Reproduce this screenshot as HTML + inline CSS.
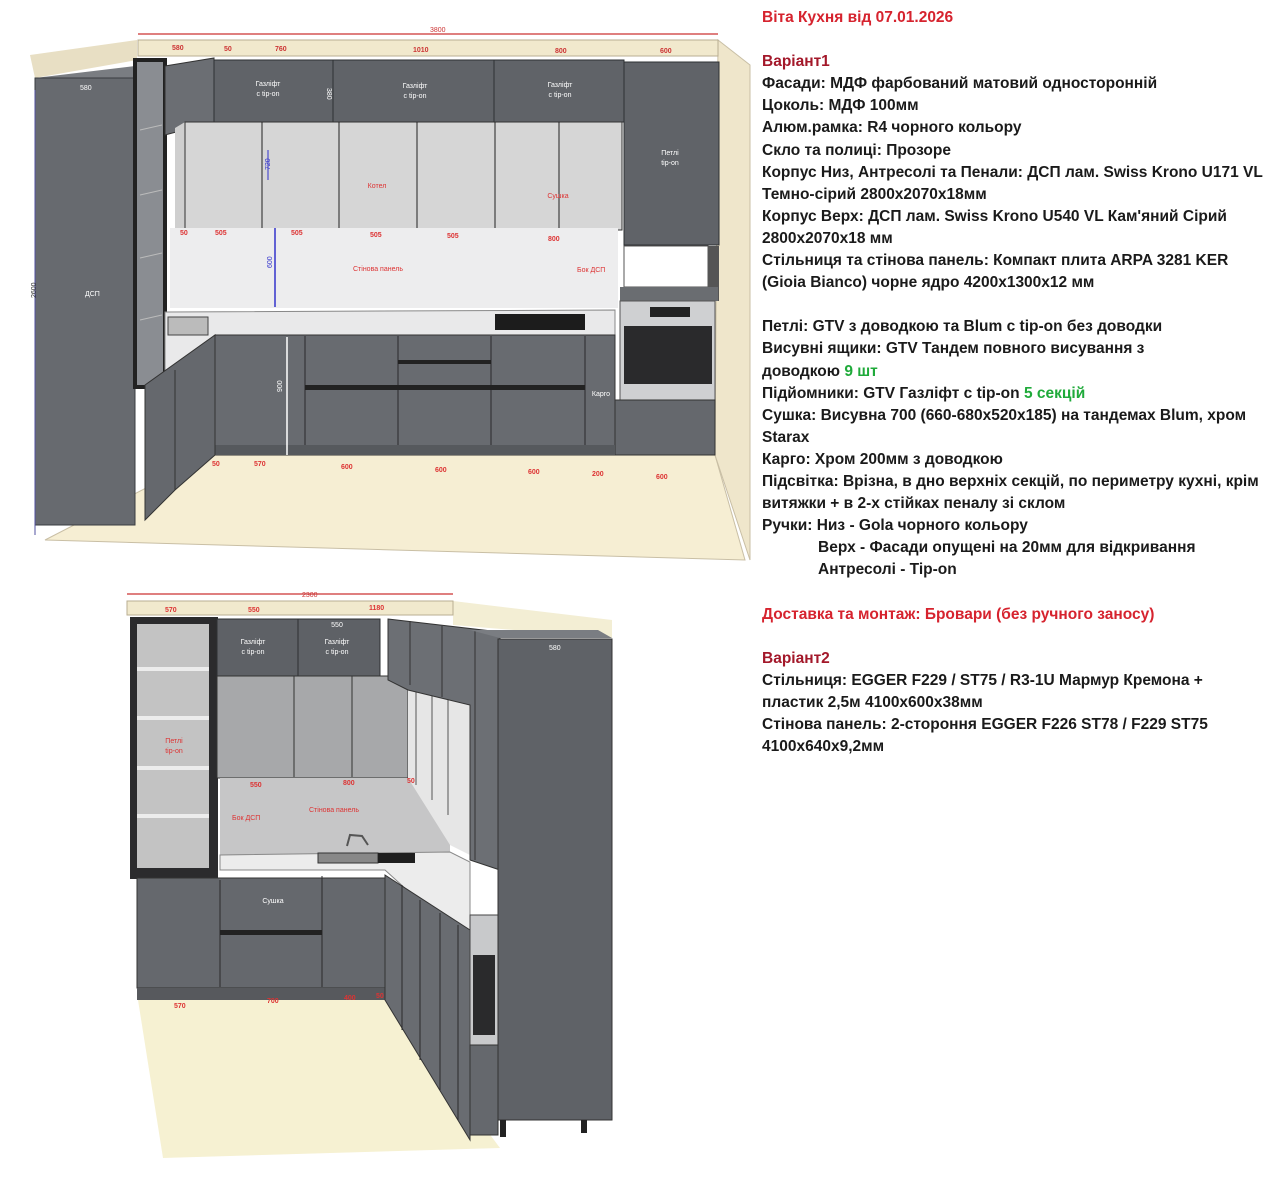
<!DOCTYPE html>
<html><head><meta charset="utf-8">
<style>
html,body{margin:0;padding:0;background:#fff;width:1280px;height:1181px;overflow:hidden}
.t{position:absolute;left:762px;top:7px;font-family:"Liberation Sans","DejaVu Sans",sans-serif;font-weight:bold;font-size:15.5px;line-height:22.1px;color:#1a1a1a;white-space:nowrap}
.r{color:#d6232e}.dr{color:#a3182a}.g{color:#1faa3a}
svg{position:absolute;left:0;top:0}
</style></head><body>
<svg width="1280" height="1181" viewBox="0 0 1280 1181" font-family="Liberation Sans, sans-serif">
<!-- TOP DRAWING -->
<polygon points="45,540 210,455 715,455 745,560" fill="#f6eed3" stroke="#c9bfa5"/>
<polygon points="718,40 750,65 750,560 715,455" fill="#efe6cb" stroke="#c9bfa5"/>
<polygon points="30,55 137,40 137,60 35,78" fill="#e8dfc4"/>
<rect x="138" y="40" width="580" height="16" fill="#f1e9cd" stroke="#b9ae92"/>
<line x1="138" y1="34" x2="718" y2="34" stroke="#c33" stroke-width="1.2"/>
<text x="430" y="32" font-size="7" fill="#c33">3800</text>
<g font-size="7" fill="#c33" font-weight="bold">
<text x="172" y="50">580</text><text x="224" y="51">50</text><text x="275" y="51">760</text><text x="413" y="52">1010</text><text x="555" y="53">800</text><text x="660" y="53">600</text>
</g>
<polygon points="35,78 135,66 165,66 165,78" fill="#7a7d82"/>
<rect x="35" y="78" width="100" height="447" fill="#676a6f" stroke="#3a3c40"/>
<rect x="135" y="60" width="30" height="327" fill="#8a8d92" stroke="#222" stroke-width="4"/>
<g stroke="#bbb"><line x1="140" y1="130" x2="162" y2="125"/><line x1="140" y1="195" x2="162" y2="190"/><line x1="140" y1="258" x2="162" y2="253"/><line x1="140" y1="320" x2="162" y2="315"/></g>
<polygon points="165,66 214,58 214,122 165,135" fill="#6b6e73" stroke="#333"/>
<line x1="35" y1="90" x2="35" y2="535" stroke="#5050a0" stroke-width="1"/>
<text x="36" y="298" font-size="7" fill="#333" transform="rotate(-90 36 298)">2600</text>
<text x="80" y="90" font-size="7" fill="#fff">580</text>
<text x="85" y="296" font-size="7" fill="#fff">ДСП</text>
<rect x="214" y="60" width="410" height="62" fill="#606368" stroke="#2e3033"/>
<line x1="333" y1="60" x2="333" y2="122" stroke="#2e3033"/><line x1="494" y1="60" x2="494" y2="122" stroke="#2e3033"/>
<g font-size="7" fill="#fff" text-anchor="middle">
<text x="268" y="86">Газліфт</text><text x="268" y="96">с tip-on</text>
<text x="415" y="88">Газліфт</text><text x="415" y="98">с tip-on</text>
<text x="560" y="87">Газліфт</text><text x="560" y="97">с tip-on</text>
</g>
<text x="327" y="88" font-size="7" fill="#fff" transform="rotate(90 327 88)">380</text>
<rect x="624" y="62" width="95" height="183" fill="#606368" stroke="#2e3033"/>
<text x="670" y="155" font-size="7" fill="#fff" text-anchor="middle">Петлі</text><text x="670" y="165" font-size="7" fill="#fff" text-anchor="middle">tip-on</text>
<rect x="624" y="246" width="84" height="41" fill="#fff" stroke="#555"/>
<rect x="708" y="246" width="11" height="55" fill="#555"/>
<rect x="620" y="287" width="98" height="14" fill="#6a6d71"/>
<rect x="620" y="301" width="95" height="99" fill="#cfd0d2" stroke="#555"/>
<rect x="650" y="307" width="40" height="10" fill="#222"/>
<rect x="624" y="326" width="88" height="58" fill="#2a2a2c"/>
<rect x="615" y="400" width="100" height="55" fill="#65686d" stroke="#333"/>
<polygon points="175,128 185,122 185,230 175,230" fill="#cfcfcf"/>
<rect x="185" y="122" width="437" height="108" fill="#d6d6d6" stroke="#333"/>
<g stroke="#222"><line x1="262" y1="122" x2="262" y2="228"/><line x1="339" y1="122" x2="339" y2="229"/><line x1="417" y1="122" x2="417" y2="229"/><line x1="495" y1="122" x2="495" y2="230"/><line x1="559" y1="122" x2="559" y2="230"/></g>
<line x1="268" y1="150" x2="268" y2="180" stroke="#33c"/>
<text x="270" y="170" font-size="7" fill="#33c" transform="rotate(-90 270 170)">720</text>
<text x="377" y="188" font-size="7" fill="#d33" text-anchor="middle">Котел</text>
<text x="558" y="198" font-size="7" fill="#d33" text-anchor="middle">Сушка</text>
<rect x="170" y="228" width="448" height="80" fill="#ededee"/>
<line x1="275" y1="228" x2="275" y2="307" stroke="#33c" stroke-width="1.5"/>
<text x="272" y="268" font-size="7" fill="#33c" transform="rotate(-90 272 268)">600</text>
<g font-size="7" fill="#d33" font-weight="bold">
<text x="180" y="235">50</text><text x="215" y="235">505</text><text x="291" y="235">505</text><text x="370" y="237">505</text><text x="447" y="238">505</text><text x="548" y="241">800</text>
<text x="353" y="271" font-weight="normal">Стінова панель</text><text x="577" y="272" font-weight="normal">Бок ДСП</text>
</g>
<polygon points="165,312 615,310 615,335 215,335 175,370 165,370" fill="#e9e9ea" stroke="#888"/>
<rect x="495" y="314" width="90" height="16" fill="#1c1c1c"/>
<rect x="168" y="317" width="40" height="18" fill="#bbb" stroke="#444"/>
<rect x="215" y="335" width="400" height="120" fill="#686b70" stroke="#333"/>
<rect x="215" y="445" width="400" height="10" fill="#56595d"/>
<g stroke="#2a2a2c" stroke-width="1"><line x1="305" y1="336" x2="305" y2="445"/><line x1="398" y1="336" x2="398" y2="445"/><line x1="491" y1="336" x2="491" y2="445"/><line x1="585" y1="336" x2="585" y2="445"/></g>
<rect x="305" y="385" width="280" height="5" fill="#222"/>
<rect x="398" y="360" width="93" height="4" fill="#222"/>
<line x1="287" y1="337" x2="287" y2="455" stroke="#fff" stroke-width="1.5"/>
<text x="282" y="392" font-size="7" fill="#fff" transform="rotate(-90 282 392)">900</text>
<text x="601" y="396" font-size="7" fill="#fff" text-anchor="middle">Карго</text>
<polygon points="145,385 215,335 215,455 175,490 145,520" fill="#65686d" stroke="#333"/>
<line x1="175" y1="370" x2="175" y2="490" stroke="#333"/>
<g font-size="7" fill="#d33" font-weight="bold">
<text x="212" y="466">50</text><text x="254" y="466">570</text><text x="341" y="469">600</text><text x="435" y="472">600</text><text x="528" y="474">600</text><text x="592" y="476">200</text><text x="656" y="479">600</text>
</g>
<!-- BOTTOM DRAWING -->
<polygon points="138,1000 388,998 500,1148 163,1158" fill="#f6f1d2"/>
<polygon points="453,601 612,620 612,638 453,625" fill="#f3eed4"/>
<line x1="127" y1="594" x2="453" y2="594" stroke="#c33" stroke-width="1.2"/>
<text x="302" y="597" font-size="7" fill="#c33">2300</text>
<rect x="127" y="601" width="326" height="14" fill="#f1e9cd" stroke="#b9ae92"/>
<g font-size="7" fill="#d33" font-weight="bold"><text x="165" y="612">570</text><text x="248" y="612">550</text><text x="369" y="610">1180</text></g>
<rect x="130" y="617" width="88" height="262" fill="#2b2b2d"/>
<rect x="137" y="624" width="72" height="244" fill="#c3c3c3"/>
<g fill="#ececec"><rect x="137" y="667" width="72" height="4"/><rect x="137" y="716" width="72" height="4"/><rect x="137" y="766" width="72" height="4"/><rect x="137" y="814" width="72" height="4"/></g>
<text x="174" y="743" font-size="7" fill="#d33" text-anchor="middle">Петлі</text><text x="174" y="753" font-size="7" fill="#d33" text-anchor="middle">tip-on</text>
<rect x="217" y="619" width="163" height="57" fill="#5e6166" stroke="#2e3033"/>
<line x1="298" y1="619" x2="298" y2="676" stroke="#2e3033"/>
<g font-size="7" fill="#fff" text-anchor="middle"><text x="253" y="644">Газліфт</text><text x="253" y="654">с tip-on</text><text x="337" y="644">Газліфт</text><text x="337" y="654">с tip-on</text><text x="337" y="627">550</text></g>
<rect x="217" y="676" width="191" height="102" fill="#a7a8aa" stroke="#333"/>
<line x1="294" y1="676" x2="294" y2="777" stroke="#333"/><line x1="352" y1="676" x2="352" y2="777" stroke="#333"/>
<rect x="220" y="778" width="230" height="78" fill="#c6c6c7"/>
<polygon points="408,690 470,705 470,855 450,845 408,778" fill="#e6e6e6"/>
<g stroke="#555"><line x1="416" y1="690" x2="416" y2="785"/><line x1="432" y1="694" x2="432" y2="800"/><line x1="448" y1="698" x2="448" y2="815"/></g>
<polygon points="388,619 500,632 500,870 470,860 470,705 408,690 388,680" fill="#6c6f74" stroke="#333"/>
<g stroke="#333"><line x1="410" y1="621" x2="410" y2="685"/><line x1="442" y1="626" x2="442" y2="697"/><line x1="475" y1="630" x2="475" y2="860"/></g>
<g font-size="7" fill="#d33" font-weight="bold"><text x="250" y="787">550</text><text x="343" y="785">800</text><text x="407" y="783">50</text>
<text x="309" y="812" font-weight="normal">Стінова панель</text><text x="232" y="820" font-weight="normal">Бок ДСП</text></g>
<polyline points="347,846 350,835 362,836 368,845" fill="none" stroke="#555" stroke-width="2"/>
<polygon points="220,855 450,852 470,862 470,930 440,920 385,870 220,870" fill="#ececec" stroke="#888"/>
<rect x="318" y="853" width="60" height="10" fill="#888" stroke="#333"/>
<rect x="378" y="853" width="37" height="10" fill="#1e1e1e"/>
<rect x="137" y="878" width="248" height="110" fill="#65686d" stroke="#333"/>
<rect x="137" y="988" width="250" height="12" fill="#57595d"/>
<line x1="220" y1="880" x2="220" y2="987" stroke="#2a2a2c"/><line x1="322" y1="876" x2="322" y2="987" stroke="#2a2a2c"/>
<rect x="220" y="930" width="102" height="5" fill="#222"/>
<text x="273" y="903" font-size="7" fill="#fff" text-anchor="middle">Сушка</text>
<polygon points="385,875 470,930 470,1140 385,1000" fill="#696c71" stroke="#333"/>
<g stroke="#2a2a2c"><line x1="402" y1="885" x2="402" y2="1030"/><line x1="420" y1="900" x2="420" y2="1060"/><line x1="440" y1="913" x2="440" y2="1090"/><line x1="458" y1="925" x2="458" y2="1120"/></g>
<rect x="470" y="915" width="28" height="130" fill="#c8c9cb" stroke="#444"/>
<rect x="473" y="955" width="22" height="80" fill="#2a2a2c"/>
<rect x="470" y="1045" width="28" height="90" fill="#65686d" stroke="#333"/>
<polygon points="470,630 500,638 612,638 598,630" fill="#7a7d82"/>
<rect x="498" y="639" width="114" height="481" fill="#5f6267" stroke="#333"/>
<rect x="500" y="1120" width="6" height="17" fill="#222"/><rect x="581" y="1120" width="6" height="13" fill="#222"/>
<text x="549" y="650" font-size="7" fill="#fff">580</text>
<g font-size="7" fill="#d33" font-weight="bold"><text x="174" y="1008">570</text><text x="267" y="1003">700</text><text x="344" y="1000">400</text><text x="376" y="998">50</text></g>
</svg>
<div class="t">
<div class="r">Віта Кухня від 07.01.2026</div>
<div>&nbsp;</div>
<div class="dr">Варіант1</div>
<div>Фасади: МДФ фарбований матовий односторонній</div>
<div>Цоколь: МДФ 100мм</div>
<div>Алюм.рамка: R4 чорного кольору</div>
<div>Скло та полиці: Прозоре</div>
<div>Корпус Низ, Антресолі та Пенали: ДСП лам. Swiss Krono U171 VL</div>
<div>Темно-сірий 2800x2070x18мм</div>
<div>Корпус Верх: ДСП лам. Swiss Krono U540 VL Кам'яний Сірий</div>
<div>2800x2070x18 мм</div>
<div>Стільниця та стінова панель: Компакт плита ARPA 3281 KER</div>
<div>(Gioia Bianco) чорне ядро 4200x1300x12 мм</div>
<div>&nbsp;</div>
<div>Петлі: GTV з доводкою та Blum с tip-on без доводки</div>
<div>Висувні ящики: GTV Тандем повного висування з</div>
<div>доводкою <span class="g">9 шт</span></div>
<div>Підйомники: GTV Газліфт с tip-on <span class="g">5 секцій</span></div>
<div>Сушка: Висувна 700 (660-680x520x185) на тандемах Blum, хром</div>
<div>Starax</div>
<div>Карго: Хром 200мм з доводкою</div>
<div>Підсвітка: Врізна, в дно верхніх секцій, по периметру кухні, крім</div>
<div>витяжки + в 2-х стійках пеналу зі склом</div>
<div>Ручки: Низ - Gola чорного кольору</div>
<div style="padding-left:56px">Верх - Фасади опущені на 20мм для відкривання</div>
<div style="padding-left:56px">Антресолі - Tip-on</div>
<div>&nbsp;</div>
<div class="r">Доставка та монтаж: Бровари (без ручного заносу)</div>
<div>&nbsp;</div>
<div class="dr">Варіант2</div>
<div>Стільниця: EGGER F229 / ST75 / R3-1U Мармур Кремона +</div>
<div>пластик 2,5м 4100x600x38мм</div>
<div>Стінова панель: 2-стороння EGGER F226 ST78 / F229 ST75</div>
<div>4100x640x9,2мм</div>
</div>
</body></html>
